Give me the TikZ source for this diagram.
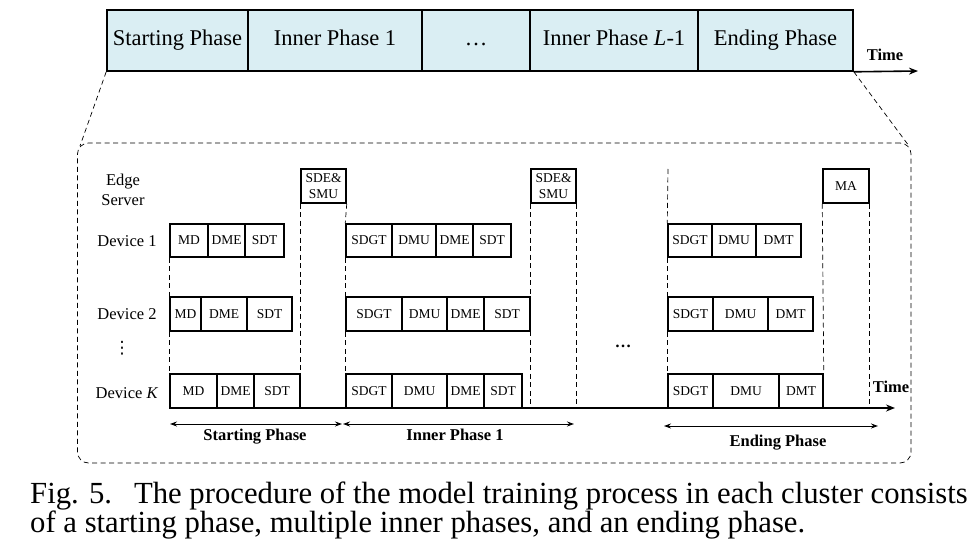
\documentclass[tikz,border=0pt]{standalone}
\usepackage{fontspec}
\setmainfont{Liberation Serif}
\newfontfamily\symfont{DejaVu Sans}
\usetikzlibrary{arrows.meta,calc}
\definecolor{phaseblue}{HTML}{DAEEF3}
\newcommand{\mkblk}[6]{\node[blk, minimum width={(#3)-(#2)}, minimum height={(#5)-(#4)}] (#1) at ({((#2)+(#3))/2},{((#4)+(#5))/2}) {#6};}
\begin{document}
\begin{tikzpicture}[x=1pt,y=-1pt,
  phasebox/.style={draw, line width=1.6pt, fill=phaseblue, inner sep=0pt, minimum height=61pt, text height=15.75pt, text depth=4.95pt, font=\fontsize{22.5}{26}\selectfont},
  blk/.style={draw, line width=1.5pt, fill=white, inner sep=0pt, font=\fontsize{13.5}{15.5}\selectfont, align=center},
  guide/.style={line width=0.7pt, dash pattern=on 5pt off 3.5pt},
  axis/.style={line width=1.6pt, -{Stealth[length=9pt,width=7pt]}},
  spanarrow/.style={line width=0.9pt, {Stealth[length=7pt,width=5pt]}-{Stealth[length=7pt,width=5pt]}},
  lbl/.style={font=\fontsize{16.5}{19.5}\selectfont, align=center, inner sep=0pt},
  blbl/.style={font=\bfseries\fontsize{16.5}{19.5}\selectfont, inner sep=0pt, text height=11.5pt, text depth=3.6pt},
  captxt/.style={font=\fontsize{30.7}{29}\selectfont, inner sep=0pt, anchor=base west},
]
\useasboundingbox (0,0) rectangle (979,553);

% top phase bar
\node[phasebox, minimum width=141pt] (tb1) at (177.5,40.5) {Starting Phase};
\node[phasebox, minimum width=174pt] (tb2) at (335,40.5) {Inner Phase 1};
\node[phasebox, minimum width=108pt] (tb3) at (476,40.5) {…};
\node[phasebox, minimum width=168pt] (tb4) at (614,40.5) {Inner Phase \textit{L}-1};
\node[phasebox, minimum width=155pt] (tb5) at (775.5,40.5) {Ending Phase};
\coordinate (topend) at (918,71);
\draw[axis] (tb5.south east) -- (topend);
\node[blbl] (toptime) at (885,57) {Time};

% zoom frame
\node[draw, guide, rounded corners=11pt, minimum width=833.5pt, minimum height=320pt, inner sep=0pt] (frame) at (494.25,303) {};
\coordinate (fl) at (80,146);
\coordinate (fr) at (909,146);
\draw[guide] (tb1.south west) -- (fl);
\draw[guide] (tb5.south east) -- (fr);

% row labels
\node[lbl] (es) at (123,190) {Edge\\Server};
\node[lbl] (dev1) at (127,241) {Device 1};
\node[lbl] (dev2) at (127,314) {Device 2};
\node[lbl, font=\symfont\fontsize{17}{19}\selectfont] (vd) at (122,348) {⋮};
\node[lbl] (devk) at (127,393) {Device \textit{K}};

% time axis
\coordinate (ax0) at (170,408);
\coordinate (ax1) at (895,408);
\draw[axis] (ax0) -- (ax1);
\node[blbl] (bottime) at (891,389) {Time};

% edge server blocks
\mkblk{sde1}{301}{346}{169}{203}{SDE\&\\SMU}
\mkblk{sde2}{531}{576}{169}{203}{SDE\&\\SMU}
\mkblk{ma}{823}{869}{169}{203}{MA}

% device 1
\mkblk{s1a}{170}{208}{224}{257}{MD}
\mkblk{s1b}{208}{245}{224}{257}{DME}
\mkblk{s1c}{245}{284}{224}{257}{SDT}
\mkblk{i1a}{346}{392}{224}{257}{SDGT}
\mkblk{i1b}{392}{436}{224}{257}{DMU}
\mkblk{i1c}{436}{473}{224}{257}{DME}
\mkblk{i1d}{473}{511}{224}{257}{SDT}
\mkblk{e1a}{668}{712}{224}{257}{SDGT}
\mkblk{e1b}{712}{756}{224}{257}{DMU}
\mkblk{e1c}{756}{801}{224}{257}{DMT}

% device 2
\mkblk{s2a}{170}{201}{297}{331}{MD}
\mkblk{s2b}{201}{247}{297}{331}{DME}
\mkblk{s2c}{247}{292}{297}{331}{SDT}
\mkblk{i2a}{346}{402}{297}{331}{SDGT}
\mkblk{i2b}{402}{447}{297}{331}{DMU}
\mkblk{i2c}{447}{484}{297}{331}{DME}
\mkblk{i2d}{484}{530}{297}{331}{SDT}
\mkblk{e2a}{668}{713}{297}{331}{SDGT}
\mkblk{e2b}{713}{768}{297}{331}{DMU}
\mkblk{e2c}{768}{813}{297}{331}{DMT}

% device K
\mkblk{sKa}{170}{217}{374}{408}{MD}
\mkblk{sKb}{217}{254}{374}{408}{DME}
\mkblk{sKc}{254}{300}{374}{408}{SDT}
\mkblk{iKa}{346}{392}{374}{408}{SDGT}
\mkblk{iKb}{392}{447}{374}{408}{DMU}
\mkblk{iKc}{447}{484}{374}{408}{DME}
\mkblk{iKd}{484}{522}{374}{408}{SDT}
\mkblk{eKa}{668}{713}{374}{408}{SDGT}
\mkblk{eKb}{713}{779}{374}{408}{DMU}
\mkblk{eKc}{779}{823}{374}{408}{DMT}

% dashed guide lines
\coordinate (etop) at (668,169);
\draw[guide] (s1a.south west) -- (s2a.north west);
\draw[guide] (s2a.south west) -- (sKa.north west);
\draw[guide] (sde1.south west) -- (sde1.south west |- ax0);
\draw[guide] (sde1.south east) -- (i1a.north west);
\draw[guide] (i1a.south west) -- (i2a.north west);
\draw[guide] (i2a.south west) -- (iKa.north west);
\draw[guide] (sde2.south west) -- (sde2.south west |- ax0);
\draw[guide] (sde2.south east) -- (sde2.south east |- ax0);
\draw[guide] (etop) -- (e1a.north west);
\draw[guide] (e1a.south west) -- (e2a.north west);
\draw[guide] (e2a.south west) -- (eKa.north west);
\draw[guide] (ma.south west) -- (eKc.north east);
\draw[guide] (ma.south east) -- (ma.south east |- ax0);

% ellipsis between phases
\node[blbl] (gap) at (623,344) {…};

% phase spans
\coordinate (sp0) at (170,424);
\coordinate (sp1) at (342,424);
\coordinate (ip0) at (343,424);
\coordinate (ip1) at (574,424);
\coordinate (ep0) at (664,426);
\coordinate (ep1) at (878,426);
\draw[spanarrow] (sp0) -- (sp1);
\draw[spanarrow] (ip0) -- (ip1);
\draw[spanarrow] (ep0) -- (ep1);
\node[blbl] (spl) at (255,437) {Starting Phase};
\node[blbl] (ipl) at (455,437) {Inner Phase 1};
\node[blbl] (epl) at (778,443) {Ending Phase};

% caption
\node[captxt] (cap1) at (30,503) {Fig. 5.\hspace{22pt}The procedure of the model training process in each cluster consists};
\node[captxt] (cap2) at (30,532) {of a starting phase, multiple inner phases, and an ending phase.};
\end{tikzpicture}
\end{document}
